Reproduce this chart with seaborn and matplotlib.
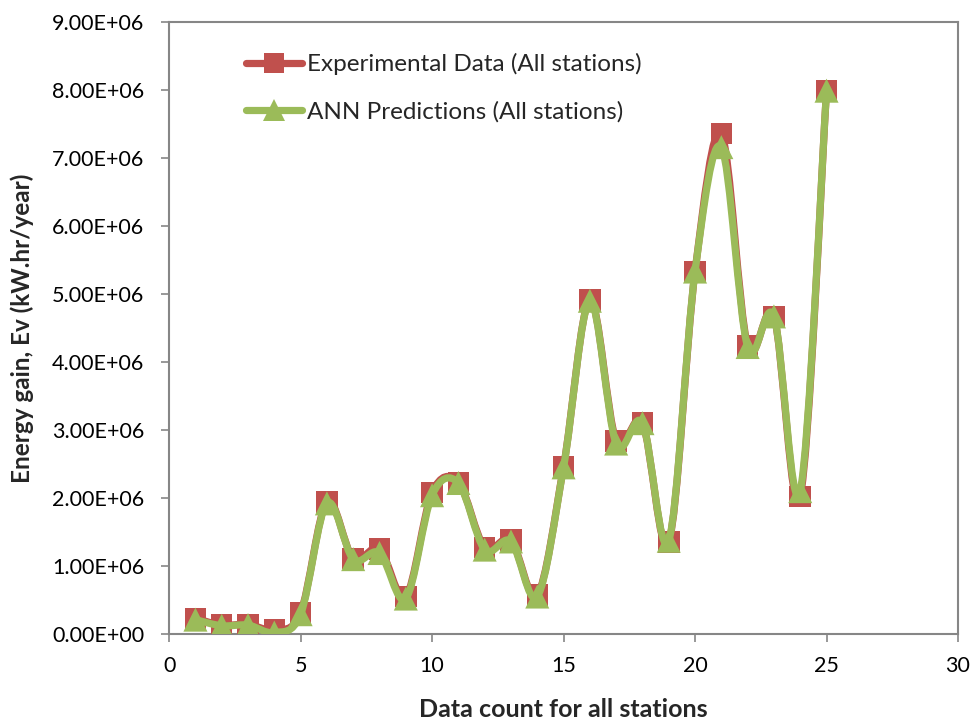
import numpy as np
import pandas as pd
import matplotlib
matplotlib.use("Agg")
import matplotlib.pyplot as plt
from matplotlib.path import Path
from matplotlib.patches import PathPatch
from matplotlib.lines import Line2D
from matplotlib.ticker import FuncFormatter, MultipleLocator
import seaborn as sns

# Datos
data_count = list(range(1, 26))
experimental = [0.23e6, 0.13e6, 0.14e6, 0.06e6, 0.31e6, 1.94e6, 1.11e6, 1.25e6, 0.55e6, 2.08e6,
                2.23e6, 1.27e6, 1.38e6, 0.57e6, 2.46e6, 4.91e6, 2.84e6, 3.10e6, 1.35e6, 5.33e6,
                7.36e6, 4.24e6, 4.67e6, 2.02e6, 7.99e6]
ann_pred = [0.21e6, 0.12e6, 0.13e6, 0.02e6, 0.29e6, 1.92e6, 1.10e6, 1.19e6, 0.52e6, 2.04e6,
            2.22e6, 1.24e6, 1.36e6, 0.55e6, 2.45e6, 4.90e6, 2.80e6, 3.10e6, 1.37e6, 5.33e6,
            7.16e6, 4.22e6, 4.67e6, 2.10e6, 7.99e6]

RED = "#C0504D"
GREEN = "#9BBB59"
GRAY = "#868686"

sns.set_style("white")
plt.rcParams['font.family'] = ['Lato', 'DejaVu Sans']


def smooth_path(x, y):
    # curva suavizada tipo Excel (Bezier con tension 1/6)
    pts = np.column_stack([x, y]).astype(float)
    ext = np.vstack([pts[0], pts, pts[-1]])
    verts = [tuple(pts[0])]
    codes = [Path.MOVETO]
    for i in range(1, len(ext) - 2):
        p0, p1, p2, p3 = ext[i - 1], ext[i], ext[i + 1], ext[i + 2]
        c1 = p1 + (p2 - p0) / 6.0
        c2 = p2 - (p3 - p1) / 6.0
        verts += [tuple(c1), tuple(c2), tuple(p2)]
        codes += [Path.CURVE4] * 3
    return Path(verts, codes)


df = pd.DataFrame({"x": data_count, "exp": experimental, "ann": ann_pred})

fig = plt.figure(figsize=(9.72, 7.22), dpi=100)
ax = fig.add_axes([0.174, 0.122, 0.8116, 0.8475])

LW = 5.2
ax.add_patch(PathPatch(smooth_path(df["x"], df["exp"]), facecolor="none",
                       edgecolor=RED, lw=LW, capstyle="round", joinstyle="round", zorder=2))
sns.scatterplot(data=df, x="x", y="exp", marker="s", s=240, color=RED,
                edgecolor="none", ax=ax, zorder=3)
ax.add_patch(PathPatch(smooth_path(df["x"], df["ann"]), facecolor="none",
                       edgecolor=GREEN, lw=LW, capstyle="round", joinstyle="round", zorder=4))
sns.scatterplot(data=df, x="x", y="ann", marker="^", s=300, color=GREEN,
                edgecolor="none", ax=ax, zorder=5)

ax.set_xlim(0, 30)
ax.set_ylim(0, 9e6)
ax.xaxis.set_major_locator(MultipleLocator(5))
ax.yaxis.set_major_locator(MultipleLocator(1e6))
ax.yaxis.set_major_formatter(FuncFormatter(lambda v, p: f"{v:.2E}"))

for s in ax.spines.values():
    s.set_color(GRAY)
    s.set_linewidth(1.5)
ax.tick_params(axis="both", direction="out", length=6, width=1.2, color=GRAY,
               labelsize=15.5, labelcolor="black")
ax.tick_params(axis="y", pad=12)
ax.tick_params(axis="x", pad=10)
ax.tick_params(left=True, bottom=True)

ax.set_xlabel("Data count for all stations", fontsize=18, fontweight="bold")
ax.set_ylabel("Energy gain, Ev (kW.hr/year)", fontsize=17.5, fontweight="bold")
ax.xaxis.set_label_coords(0.5, -0.105)
ax.yaxis.set_label_coords(-0.171, 0.5)

handles = [
    Line2D([], [], color=RED, lw=LW, marker="s", markersize=15, markeredgewidth=0,
           solid_capstyle="round"),
    Line2D([], [], color=GREEN, lw=LW, marker="^", markersize=16, markeredgewidth=0,
           solid_capstyle="round"),
]
ax.legend(handles, ["Experimental Data (All stations)", "ANN Predictions (All stations)"],
          loc="upper left", bbox_to_anchor=(0.07, 0.985), frameon=False, fontsize=17.5,
          handlelength=2.3, handletextpad=0.2, labelspacing=1.05)

fig.savefig("out.png", dpi=100, facecolor="white")
